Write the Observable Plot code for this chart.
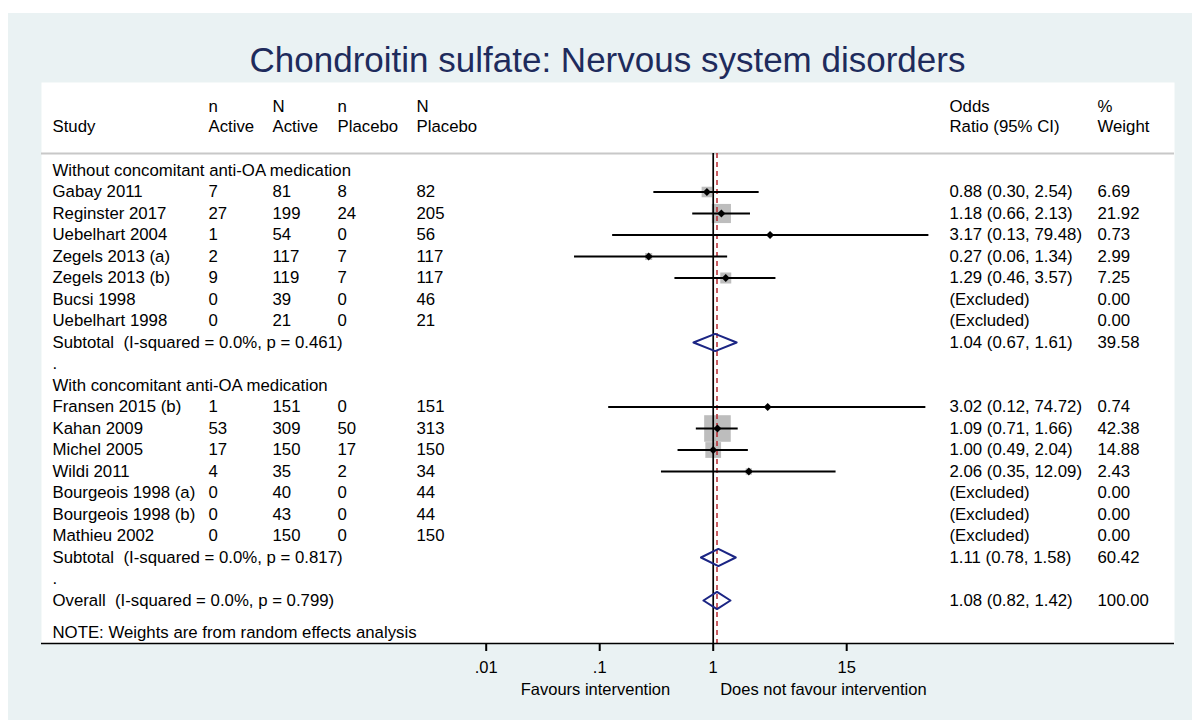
<!DOCTYPE html>
<html><head><meta charset="utf-8">
<script src="https://cdn.jsdelivr.net/npm/d3@7"></script>
<script src="https://cdn.jsdelivr.net/npm/@observablehq/plot@0.6"></script>
<style>
html,body{margin:0;padding:0;background:#fff;}
#page{position:relative;width:1192px;height:720px;overflow:hidden;}
#bg{position:absolute;left:8px;top:13px;width:1184px;height:707px;background:#EAF2F3;}
#title{position:absolute;left:41px;width:1133px;top:40px;text-align:center;font-family:"Liberation Sans",Arial,sans-serif;font-size:35px;color:#1E2B5C;line-height:normal;white-space:nowrap;}
#chart{position:absolute;left:0;top:0;}
svg text{white-space:pre;}
</style></head><body>
<div id="page"><div id="bg"></div><div id="title">Chondroitin sulfate: Nervous system disorders</div><div id="chart"></div></div>
<script>
// ---- data ----
const groupLabels = ["Without concomitant anti-OA medication", "With concomitant anti-OA medication"];
const studyNames = ["Gabay 2011","Reginster 2017","Uebelhart 2004","Zegels 2013 (a)","Zegels 2013 (b)","Bucsi 1998","Uebelhart 1998",
                    "Fransen 2015 (b)","Kahan 2009","Michel 2005","Wildi 2011","Bourgeois 1998 (a)","Bourgeois 1998 (b)","Mathieu 2002"];
const studyGroup = [0,0,0,0,0,0,0,1,1,1,1,1,1,1];
const nActive  = [7,27,1,2,9,0,0, 1,53,17,4,0,0,0];
const NActive  = [81,199,54,117,119,39,21, 151,309,150,35,40,43,150];
const nPlacebo = [8,24,0,7,7,0,0, 0,50,17,2,0,0,0];
const NPlacebo = [82,205,56,117,117,46,21, 151,313,150,34,44,44,150];
const oddsRatio = [0.88,1.18,3.17,0.27,1.29,null,null, 3.02,1.09,1.00,2.06,null,null,null];
const ciLow     = [0.30,0.66,0.13,0.06,0.46,null,null, 0.12,0.71,0.49,0.35,null,null,null];
const ciHigh    = [2.54,2.13,79.48,1.34,3.57,null,null, 74.72,1.66,2.04,12.09,null,null,null];
const weights   = [6.69,21.92,0.73,2.99,7.25,0,0, 0.74,42.38,14.88,2.43,0,0,0];
const subI2 = ["0.0%","0.0%"];
const subP  = ["0.461","0.817"];
const subOR = [1.04,1.11];
const subLow = [0.67,0.78];
const subHigh = [1.61,1.58];
const subWeight = [39.58,60.42];
const overallI2 = "0.0%", overallP = "0.799";
const overallOR = 1.08, overallLow = 0.82, overallHigh = 1.42, overallWeight = 100.00;
const tickValues = [0.01, 0.1, 1, 15];
const tickLabels = [".01", ".1", "1", "15"];
const headerLine1 = ["", "n", "N", "n", "N", "Odds", "%"];
const headerLine2 = ["Study", "Active", "Active", "Placebo", "Placebo", "Ratio (95% CI)", "Weight"];
const noteText = "NOTE: Weights are from random effects analysis";
const favoursLeft = "Favours intervention";
const favoursRight = "Does not favour intervention";

// ---- rows ----
const rows = [];
let r = 0;
groupLabels.forEach((g, gi) => {
  rows.push({row: r++, kind: "group", label: g});
  studyNames.forEach((s, i) => {
    if (studyGroup[i] !== gi) return;
    rows.push({row: r++, kind: "study", label: s, nA: nActive[i], NA: NActive[i], nP: nPlacebo[i], NP: NPlacebo[i],
      or: oddsRatio[i], lo: ciLow[i], hi: ciHigh[i], w: weights[i]});
  });
  rows.push({row: r++, kind: "subtotal", label: `Subtotal  (I-squared = ${subI2[gi]}, p = ${subP[gi]})`,
    or: subOR[gi], lo: subLow[gi], hi: subHigh[gi], w: subWeight[gi]});
  rows.push({row: r++, kind: "blank", label: "."});
});
rows.push({row: r++, kind: "overall", label: `Overall  (I-squared = ${overallI2}, p = ${overallP})`,
  or: overallOR, lo: overallLow, hi: overallHigh, w: overallWeight});
const noteRow = r + 0.5;

const studies = rows.filter(d => d.kind === "study");
const estimated = studies.filter(d => d.or != null);
const pooled = rows.filter(d => d.kind === "subtotal" || d.kind === "overall");
const diamonds = pooled.flatMap(d => [
  {x: d.lo, y: d.row, id: d.row}, {x: d.or, y: d.row - 0.4, id: d.row},
  {x: d.hi, y: d.row, id: d.row}, {x: d.or, y: d.row + 0.4, id: d.row},
  {x: d.lo, y: d.row, id: d.row}]);

const fmtOR = d => d.or == null ? "(Excluded)" : `${d.or.toFixed(2)} (${d.lo.toFixed(2)}, ${d.hi.toFixed(2)})`;
const colTexts = [
  d => d.label,
  d => d.kind === "study" ? String(d.nA) : "",
  d => d.kind === "study" ? String(d.NA) : "",
  d => d.kind === "study" ? String(d.nP) : "",
  d => d.kind === "study" ? String(d.NP) : "",
  d => (d.kind === "study" || d.kind === "subtotal" || d.kind === "overall") ? fmtOR(d) : "",
  d => (d.kind === "study" || d.kind === "subtotal" || d.kind === "overall") ? d.w.toFixed(2) : ""
];
const colDx = [11, 167, 231, 296, 375, 908, 1056];
const headerRows = [-2.96, -2.03];
const sepRow = -0.79;
const FS = 16.8;

const marks = [
  Plot.frame({fill: "white", stroke: "none"}),
  Plot.ruleY([sepRow], {stroke: "#c8c8c8", strokeWidth: 2}),
  Plot.dot(estimated.filter(d => d.w > 0), {x: "or", y: "row", r: "w", symbol: "square", fill: "#bdbdbd", stroke: "none"}),
  Plot.ruleX([1], {y1: sepRow, y2: 22, stroke: "black", strokeWidth: 1.7}),
  Plot.ruleX([overallOR], {y1: sepRow, y2: 22, stroke: "#B8282F", strokeWidth: 1.5, strokeDasharray: "5,4"}),
  Plot.ruleY(estimated, {y: "row", x1: "lo", x2: "hi", stroke: "black", strokeWidth: 2}),
  Plot.dot(estimated, {x: "or", y: "row", r: 3.6, symbol: "diamond2", fill: "black", stroke: "none"}),
  Plot.line(diamonds, {x: "x", y: "y", z: "id", stroke: "#1B2584", strokeWidth: 2, curve: "linear"}),
];
colTexts.forEach((f, ci) => {
  marks.push(Plot.text(rows, {y: "row", text: f, frameAnchor: "left", dx: colDx[ci], textAnchor: "start", fontSize: FS, fill: "black"}));
  marks.push(Plot.text([{t: headerLine1[ci], row: headerRows[0]}, {t: headerLine2[ci], row: headerRows[1]}],
    {y: "row", text: "t", frameAnchor: "left", dx: colDx[ci], textAnchor: "start", fontSize: FS, fill: "black"}));
});
marks.push(Plot.text([{t: noteText, row: noteRow}], {y: "row", text: "t", frameAnchor: "left", dx: colDx[0], textAnchor: "start", fontSize: FS, fill: "black"}));
marks.push(Plot.ruleY([22], {stroke: "black", strokeWidth: 1.5}));
marks.push(Plot.axisX({ticks: tickValues, tickFormat: d => tickLabels[tickValues.indexOf(d)], tickSize: 8, tickPadding: 10,
  strokeWidth: 2, fontSize: 16.5, label: null, anchor: "bottom"}));
marks.push(Plot.text([{t: favoursLeft, x: 1, row: 24.14}], {x: "x", y: "row", text: "t", textAnchor: "end", dx: -43, fontSize: 16.5, fill: "black"}));
marks.push(Plot.text([{t: favoursRight, x: 1, row: 24.14}], {x: "x", y: "row", text: "t", textAnchor: "start", dx: 7, fontSize: 16.5, fill: "black"}));

const chart = Plot.plot({
  width: 1192, height: 720,
  marginLeft: 41, marginRight: 18, marginTop: 82, marginBottom: 77,
  x: {type: "log", domain: [0.01, 15], range: [485.7, 846.2], label: null},
  y: {domain: [-88 / 21.5, 22], reverse: true, axis: null},
  r: {type: "sqrt", domain: [0, 42.38], range: [0, 15]},
  style: {background: "transparent", fontFamily: "'Liberation Sans', Arial, sans-serif", fontSize: FS + "px", color: "black", overflow: "visible"},
  marks
});
document.getElementById("chart").appendChild(chart);
</script></body></html>
